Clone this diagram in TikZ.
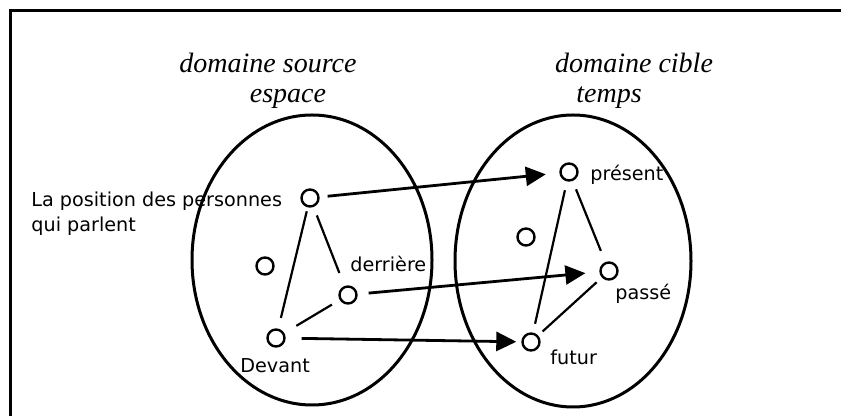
\documentclass[tikz,border=0pt]{standalone}
\usepackage{fontspec}
\setmainfont{Liberation Serif}
\newfontfamily\etiqfont{DejaVu Sans}
\usetikzlibrary{arrows.meta}

\begin{document}
\begin{tikzpicture}[x=.5pt,y=-.5pt,
  noeud/.style={circle,draw,line width=1.2pt,minimum size=8.5pt,inner sep=0pt},
  etiq/.style={anchor=base west,inner sep=0pt,font=\etiqfont\fontsize{9.6}{11}\selectfont},
  titre/.style={anchor=base,inner sep=0pt,font=\itshape\fontsize{14}{16}\selectfont},
  lien/.style={line width=1.1pt,shorten <=4.5pt,shorten >=4.5pt},
  fleche/.style={line width=1.4pt,-{Triangle[length=10pt,width=9.5pt]}}]
\useasboundingbox (0,0) rectangle (841,416);
% cadre
\draw[line width=1.5pt] (10,416)--(10,11)--(841,11);
% titres
\node[titre] (tsrc) at (268,73) {domaine source};
\node[titre] (tesp) at (288,103) {espace};
\node[titre] (tcib) at (634,73) {domaine cible};
\node[titre] (ttps) at (609,103) {temps};
% domaines
\draw[line width=1.5pt] (312,260) ellipse [x radius=120,y radius=145];
\draw[line width=1.5pt] (573,261) ellipse [x radius=118,y radius=146];
% espace
\node[noeud] (pos) at (310,198) {};
\node[noeud] (vide1) at (265,266) {};
\node[noeud] (derr) at (348,295) {};
\node[noeud] (dev) at (276,338) {};
\node[etiq] (lpos) at (31,207) {La position des personnes};
\node[etiq] (lqui) at (31,232) {qui parlent};
\node[etiq] (lderr) at (350,272) {derrière};
\node[etiq] (ldev) at (240,373) {Devant};
% temps
\node[noeud] (pres) at (569,172) {};
\node[noeud] (vide2) at (526,237) {};
\node[noeud] (pass) at (609,271) {};
\node[noeud] (fut) at (531,342) {};
\node[etiq] (lpres) at (590,181) {présent};
\node[etiq] (lpass) at (615,300) {passé};
\node[etiq] (lfut) at (550,365) {futur};
% liens internes
\draw[lien,shorten <=2pt,shorten >=5.5pt] (pos)--(dev);
\draw[lien,shorten >=7pt] (pos)--(derr);
\draw[lien,shorten >=7pt] (derr)--(dev);
\draw[lien] (pres)--(fut);
\draw[lien,shorten >=6pt] (pres)--(pass);
\draw[lien,shorten <=3.5pt,shorten >=3pt] (pass)--(fut);
% projections
\draw[fleche,shorten <=4pt,shorten >=6.8pt] (pos)--(pres);
\draw[fleche,shorten <=5.5pt,shorten >=7pt] (derr)--(pass);
\draw[fleche,shorten <=8pt,shorten >=2.5pt] (dev)--(fut);
\end{tikzpicture}
\end{document}
